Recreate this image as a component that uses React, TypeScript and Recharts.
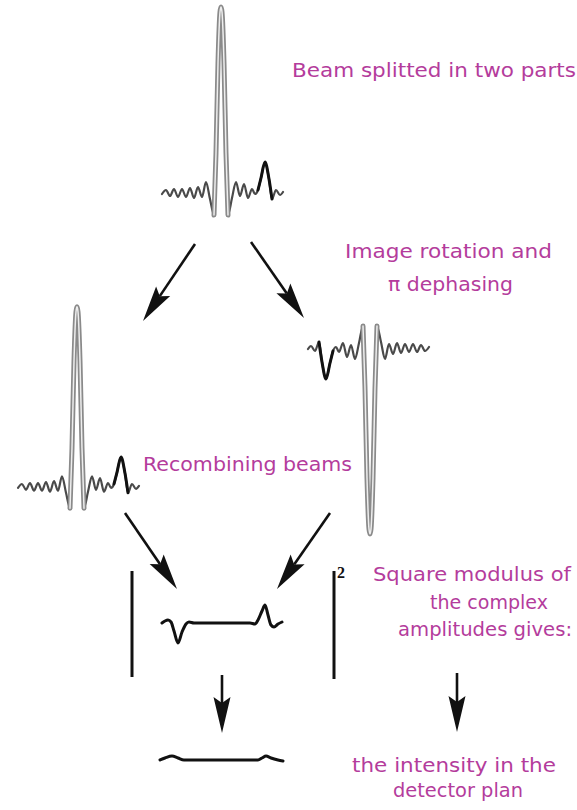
import React from 'react';
import { LineChart, Line, XAxis, YAxis } from 'recharts';

// split beam profile: [dx from main peak, height above baseline] in px
const beamTrace = [
  [-59, -1], [-55, 3], [-51, -3], [-47, 4], [-43, -4], [-39, 4], [-35, -4], [-31, 5],
  [-27, -5], [-23, 6], [-19, -4], [-15, 11], [-11, -6], [-7, -22],
  [-5, 40], [-3, 130], [-1, 181], [0, 186], [1, 181], [3, 130], [5, 40], [7, -22],
  [11, -5], [15, 11], [19, -3], [23, 9], [27, -5], [31, 4], [34, -1], [37, 3],
  [40, 15], [44, 31], [48, 14], [51, -6], [55, 3], [59, -2], [62, 1],
];

// rotated + pi dephased copy, as drawn on the right
const rotatedTrace = [
  [-62, -1], [-59, 2], [-55, -3], [-51, 6], [-48, -14], [-44, -31], [-40, -15], [-37, -3],
  [-34, 1], [-31, -4], [-27, 5], [-23, -9], [-19, 3], [-15, -11], [-11, 5], [-7, 22],
  [-5, -40], [-3, -130], [-1, -181], [0, -186], [1, -181], [3, -130], [5, -40], [7, 22],
  [11, 6], [15, -11], [19, 4], [23, -6], [27, 5], [31, -5], [35, 4], [39, -4],
  [43, 4], [47, -4], [51, 3], [55, -3], [59, 1],
];

// recombined amplitude (dx from left end)
const sumTrace = [
  [0, 0], [3, 2], [6, 3], [9, 1], [12, -8], [16, -20], [20, -9], [24, -1], [27, 1],
  [32, 0], [50, 0], [70, 0], [88, 0], [93, -1], [96, 3], [100, 12], [103, 18],
  [106, 8], [109, -2], [112, -4], [116, -1], [120, 1],
];

// detected intensity (dx from left end)
const intensityTrace = [
  [0, 0], [5, 2], [12, 4], [18, 2], [24, 0], [50, 0], [80, 0], [98, 0],
  [102, 2], [106, 4], [111, 2], [118, 0], [123, -1],
];

const textLines = [
  { t: 'Beam splitted in two parts', x: 292, y: 77, w: 284 },
  { t: 'Image rotation and', x: 345, y: 258, w: 207 },
  { t: '\u03c0 dephasing', x: 388, y: 291, w: 125 },
  { t: 'Recombining beams', x: 143, y: 471, w: 209 },
  { t: 'Square modulus of', x: 373, y: 581, w: 198 },
  { t: 'the complex', x: 430, y: 609, w: 118 },
  { t: 'amplitudes gives:', x: 398, y: 636, w: 174 },
  { t: 'the intensity in the', x: 352, y: 772, w: 204 },
  { t: 'detector plan', x: 393, y: 797, w: 130 },
];

const arrows = [
  [195, 244, 143, 321],
  [251, 242, 304, 318],
  [125, 513, 177, 589],
  [330, 513, 277, 589],
  [222, 675, 222, 733],
  [457, 673, 457, 732],
];

const TEXT_COLOR = '#b43c9c';

type Pt = { x: number; y: number };
const toPts = (a: number[][]): Pt[] => a.map(([x, y]) => ({ x, y }));
const between = (a: number[][], lo: number, hi: number) => toPts(a.filter(([x]) => x >= lo && x <= hi));

interface Part { data: Pt[]; kind: 'wig' | 'peak' | 'echo' | 'solid' }

const lineStyle = {
  type: 'monotone' as const,
  dot: false,
  activeDot: false,
  isAnimationActive: false,
  strokeLinecap: 'round' as const,
  strokeLinejoin: 'round' as const,
};

function Wave({ parts, ax, ay, x0, x1, y0, y1, sy = 1 }: {
  parts: Part[]; ax: number; ay: number; x0: number; x1: number; y0: number; y1: number; sy?: number;
}) {
  const w = x1 - x0;
  const h = Math.round((y1 - y0) * sy);
  return (
    <div style={{ position: 'absolute', left: ax + x0, top: ay - y1 * sy, width: w, height: h }}>
      <LineChart width={w} height={h} margin={{ top: 0, right: 0, bottom: 0, left: 0 }}>
        <XAxis type="number" dataKey="x" domain={[x0, x1]} allowDataOverflow hide />
        <YAxis type="number" domain={[y0, y1]} allowDataOverflow hide />
        {parts.map((p, i) => {
          if (p.kind === 'peak') {
            return [
              <Line key={i + 'a'} data={p.data} dataKey="y" stroke="#8a8a8a" strokeWidth={5} {...lineStyle} />,
              <Line key={i + 'b'} data={p.data} dataKey="y" stroke="#eeeeee" strokeWidth={1.5} {...lineStyle} />,
            ];
          }
          const stroke = p.kind === 'wig' ? '#4a4a4a' : '#111';
          const sw = p.kind === 'wig' ? 2.2 : 3;
          return <Line key={i} data={p.data} dataKey="y" stroke={stroke} strokeWidth={sw} {...lineStyle} />;
        })}
      </LineChart>
    </div>
  );
}

function Arrow({ a }: { a: number[] }) {
  const [x1, y1, x2, y2] = a;
  const L = Math.hypot(x2 - x1, y2 - y1);
  const ux = (x2 - x1) / L, uy = (y2 - y1) / L;
  const px = -uy, py = ux;
  const len = 36, half = 8.5, notch = 30;
  const bx = x2 - ux * len, by = y2 - uy * len;
  const nx = x2 - ux * notch, ny = y2 - uy * notch;
  const pts = [
    [x2, y2], [bx + px * half, by + py * half], [nx, ny], [bx - px * half, by - py * half],
  ].map((p) => p.join(',')).join(' ');
  return (
    <g>
      <line x1={x1} y1={y1} x2={nx} y2={ny} stroke="#111" strokeWidth={2.6} />
      <polygon points={pts} fill="#111" />
    </g>
  );
}

export default function App() {
  const beam: Part[] = [
    { data: toPts(beamTrace), kind: 'wig' },
    { data: between(beamTrace, -7, 7), kind: 'peak' },
    { data: between(beamTrace, 37, 51), kind: 'echo' },
  ];
  const rotated: Part[] = [
    { data: toPts(rotatedTrace), kind: 'wig' },
    { data: between(rotatedTrace, -7, 7), kind: 'peak' },
    { data: between(rotatedTrace, -51, -37), kind: 'echo' },
  ];
  return (
    <div style={{ position: 'absolute', left: 0, top: 0, width: 577, height: 810, background: '#fff', overflow: 'hidden' }}>
      <Wave parts={beam} ax={221} ay={193} x0={-63} x1={66} y0={-28} y1={190} />
      <Wave parts={beam} ax={77} ay={487} x0={-63} x1={66} y0={-28} y1={190} sy={0.968} />
      <Wave parts={rotated} ax={370} ay={348} x0={-66} x1={63} y0={-190} y1={28} />
      <Wave parts={[{ data: toPts(sumTrace), kind: 'solid' }]} ax={162} ay={623} x0={-4} x1={124} y0={-24} y1={22} />
      <Wave parts={[{ data: toPts(intensityTrace), kind: 'solid' }]} ax={160} ay={760} x0={-4} x1={127} y0={-6} y1={8} />
      <svg width={577} height={810} style={{ position: 'absolute', left: 0, top: 0 }}>
        {arrows.map((a, i) => <Arrow key={i} a={a} />)}
        <line x1={132} y1={571} x2={132} y2={677} stroke="#111" strokeWidth={3} />
        <line x1={334} y1={571} x2={334} y2={679} stroke="#111" strokeWidth={3} />
        <text x={337} y={578} fontFamily="Liberation Serif" fontWeight="bold" fontSize={16} fill="#111">2</text>
        {textLines.map((l, i) => (
          <text key={i} x={l.x} y={l.y} fontFamily="DejaVu Sans" fontSize={19} fill={TEXT_COLOR}
            textLength={l.w} lengthAdjust="spacingAndGlyphs">{l.t}</text>
        ))}
      </svg>
    </div>
  );
}
